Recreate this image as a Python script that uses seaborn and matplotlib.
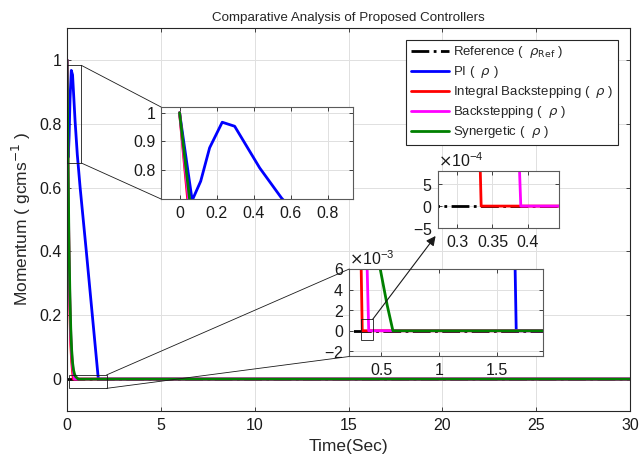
import matplotlib
matplotlib.use("Agg")
import matplotlib.pyplot as plt
import seaborn as sns
from matplotlib.patches import Rectangle, ConnectionPatch
from matplotlib.ticker import FuncFormatter, ScalarFormatter

# Momentum responses (time in s) for the reference and each controller
t_ref = [0.0, 30.0]
rho_ref = [0.0, 0.0]

t_pi = [0.0, 0.068, 0.114, 0.162, 0.23, 0.297, 0.432, 0.55, 0.70, 1.03, 1.35, 1.67, 30.0]
rho_pi = [1.0, 0.695, 0.762, 0.878, 0.967, 0.953, 0.808, 0.703, 0.60, 0.40, 0.20, 0.0, 0.0]

t_ibs = [0.0, 0.045, 0.10, 0.15, 0.20, 0.25, 0.30, 0.334, 30.0]
rho_ibs = [1.0, 0.69, 0.40, 0.22, 0.11, 0.055, 0.022, 0.0, 0.0]

t_bs = [0.0, 0.048, 0.10, 0.15, 0.20, 0.25, 0.30, 0.35, 0.39, 30.0]
rho_bs = [1.0, 0.70, 0.42, 0.25, 0.14, 0.075, 0.04, 0.018, 0.0, 0.0]

t_syn = [0.0, 0.054, 0.10, 0.15, 0.20, 0.25, 0.30, 0.35, 0.40, 0.45, 0.49, 0.55, 0.60, 30.0]
rho_syn = [1.0, 0.70, 0.45, 0.28, 0.16, 0.09, 0.05, 0.028, 0.016, 0.009, 0.006, 0.0025, 0.0, 0.0]

series_labels = [
    r"Reference (  $\rho_{\mathrm{Ref}}$ )",
    r"PI (  $\rho$ )",
    r"Integral Backstepping (  $\rho$ )",
    r"Backstepping (  $\rho$ )",
    r"Synergetic (  $\rho$ )",
]
series_colors = ["#000000", "#0000ff", "#ff0000", "#ff00ff", "#008000"]
series_styles = ["-.", "-", "-", "-", "-"]
series_data = [(t_ref, rho_ref), (t_pi, rho_pi), (t_ibs, rho_ibs),
               (t_bs, rho_bs), (t_syn, rho_syn)]

sns.set_theme(style="whitegrid")
plt.rcParams.update({
    "font.family": ["Liberation Sans", "DejaVu Sans"],
    "axes.unicode_minus": False,
    "xtick.direction": "in",
    "ytick.direction": "in",
    "xtick.top": True,
    "ytick.right": True,
    "xtick.bottom": True,
    "ytick.left": True,
    "xtick.major.size": 3,
    "ytick.major.size": 3,
    "xtick.major.width": 0.6,
    "ytick.major.width": 0.6,
    "xtick.color": "#262626",
    "ytick.color": "#262626",
    "xtick.labelcolor": "#1a1a1a",
    "ytick.labelcolor": "#1a1a1a",
    "xtick.major.pad": 5,
    "ytick.major.pad": 4,
    "grid.color": "#e0e0e0",
    "grid.linewidth": 0.7,
    "axes.edgecolor": "#262626",
    "axes.linewidth": 0.8,
    "axes.facecolor": "white",
    "mathtext.fontset": "dejavusans",
})

fig = plt.figure(figsize=(6.41, 4.66), dpi=100)
ax = fig.add_axes([0.1045, 0.118, 0.8785, 0.822])

plain = FuncFormatter(lambda v, _: f"{v:g}")


def draw_series(a, with_labels=False):
    for (tt, yy), c, ls, lab in zip(series_data, series_colors, series_styles, series_labels):
        sns.lineplot(x=tt, y=yy, ax=a, color=c, linestyle=ls, linewidth=2.0,
                     estimator=None, sort=False, legend=False,
                     label=lab if with_labels else "_nolegend_")


draw_series(ax, with_labels=True)
ax.set_xlim(0, 30)
ax.set_ylim(-0.1, 1.1)
ax.set_xticks([0, 5, 10, 15, 20, 25, 30])
ax.set_yticks([0, 0.2, 0.4, 0.6, 0.8, 1.0])
ax.xaxis.set_major_formatter(plain)
ax.yaxis.set_major_formatter(plain)
ax.tick_params(labelsize=11.5)
ax.set_xlabel("Time(Sec)", fontsize=12.5, labelpad=4)
ax.set_ylabel(r"Momentum ( gcms$^{-1}$ )", fontsize=12.5, labelpad=4)
ax.set_title("Comparative Analysis of Proposed Controllers", fontsize=9.6, pad=5)

leg = ax.legend(loc="upper right", bbox_to_anchor=(0.979, 0.969), borderaxespad=0,
                fontsize=9.5, frameon=True, fancybox=False, framealpha=1,
                edgecolor="#262626", handlelength=2.9, handletextpad=0.3,
                borderpad=0.35, labelspacing=0.3)
leg.get_frame().set_linewidth(0.8)


def style_inset(a):
    a.set_facecolor("white")
    for s in a.spines.values():
        s.set_edgecolor("#5a5a5a")
        s.set_linewidth(0.8)
    a.tick_params(labelsize=11.5, length=3)
    a.set_xlabel("")
    a.set_ylabel("")
    a.grid(True)


# Inset: early transient of the responses
ins1 = fig.add_axes([0.2512, 0.573, 0.2995, 0.1974])
draw_series(ins1)
ins1.set_xlim(-0.1, 0.935)
ins1.set_ylim(0.7, 1.02)
ins1.set_xticks([0, 0.2, 0.4, 0.6, 0.8])
ins1.set_yticks([0.8, 0.9, 1.0])
ins1.xaxis.set_major_formatter(plain)
ins1.yaxis.set_major_formatter(plain)
style_inset(ins1)

# Inset: settling near zero
ins3 = fig.add_axes([0.545, 0.235, 0.3017, 0.1878])
draw_series(ins3)
ins3.set_xlim(0.222, 1.9)
ins3.set_ylim(-0.0025, 0.006)
ins3.set_xticks([0.5, 1.0, 1.5])
ins3.set_yticks([-0.002, 0, 0.002, 0.004, 0.006])
ins3.xaxis.set_major_formatter(plain)
f3 = ScalarFormatter(useMathText=True)
f3.set_powerlimits((0, 0))
ins3.yaxis.set_major_formatter(f3)
style_inset(ins3)
ins3.yaxis.get_offset_text().set_fontsize(11.5)

# Inset: arrival of the backstepping controllers at zero
ins2 = fig.add_axes([0.6833, 0.5107, 0.1888, 0.1223])
draw_series(ins2)
ins2.set_xlim(0.273, 0.444)
ins2.set_ylim(-0.0005, 0.0008)
ins2.set_xticks([0.3, 0.35, 0.4])
ins2.set_yticks([-0.0005, 0, 0.0005])
ins2.xaxis.set_major_formatter(plain)
f2 = ScalarFormatter(useMathText=True)
f2.set_powerlimits((0, 0))
ins2.yaxis.set_major_formatter(f2)
style_inset(ins2)
ins2.yaxis.get_offset_text().set_fontsize(11.5)

# Zoom boxes and connectors
ax.add_patch(Rectangle((0.0, 0.677), 0.76, 0.306, fill=False, ec="k", lw=0.6, zorder=5))
for ya, yb in [(0.983, 1), (0.677, 0)]:
    fig.add_artist(ConnectionPatch(xyA=(0.76, ya), coordsA=ax.transData,
                                   xyB=(0, yb), coordsB=ins1.transAxes, color="k", lw=0.6))

ax.add_patch(Rectangle((0.12, -0.029), 1.99, 0.042, fill=False, ec="k", lw=0.6, zorder=5))
for ya, yb in [(0.013, 1), (-0.029, 0)]:
    fig.add_artist(ConnectionPatch(xyA=(2.11, ya), coordsA=ax.transData,
                                   xyB=(0, yb), coordsB=ins3.transAxes, color="k", lw=0.6))

ins3.add_patch(Rectangle((0.326, -0.0009), 0.098, 0.002, fill=False, ec="k", lw=0.6, zorder=5))
fig.add_artist(ConnectionPatch(xyA=(0.424, 0.0011), coordsA=ins3.transData,
                               xyB=(-0.02, -0.14), coordsB=ins2.transAxes,
                               arrowstyle="-|>", mutation_scale=14, color="k", lw=0.8))

fig.savefig("out.png", dpi=100)
